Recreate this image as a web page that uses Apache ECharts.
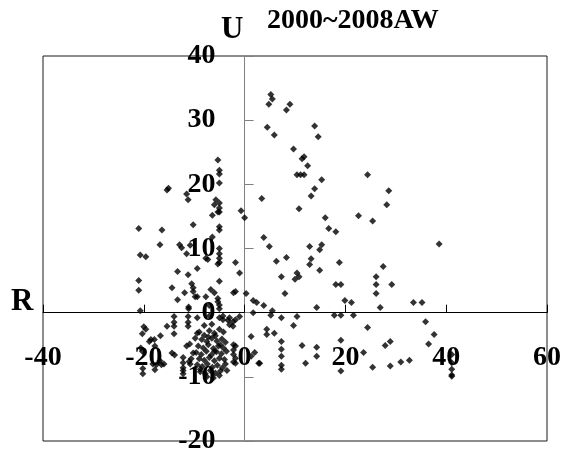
<!DOCTYPE html>
<html>
<head>
<meta charset="utf-8">
<script src="https://cdn.jsdelivr.net/npm/echarts@6/dist/echarts.min.js"></script>
<style>html,body{margin:0;padding:0;background:#fff}#c{width:561px;height:455px}</style>
</head>
<body>
<div id="c"></div>
<script>
// Chart text
const titleText = "2000~2008AW";
const xName = "R";
const yName = "U";
// Axis ranges / ticks
const xTicks = [-40, -20, 0, 20, 40, 60];
const yTicks = [-20, -10, 0, 10, 20, 30, 40];

// Scatter points [R, U]
const upperRight = [
  [5.2,34.0],[5.5,33.3],[4.8,32.5],[9.0,32.5],[8.3,31.6],[4.5,28.9],[5.9,27.7],[13.9,29.1],[14.6,27.4],
  [9.7,25.5],[11.4,24.0],[11.8,24.3],[12.5,22.9],[10.4,21.5],[11.1,21.5],[11.8,21.5],[15.3,20.7],
  [13.9,19.3],[13.2,18.2],[3.4,17.8],[-0.7,15.9],[0,14.8],[10.8,16.2],[16.0,14.8],[16.7,13.1],[18.1,12.6],
  [3.8,11.7],[4.9,10.3],[12.9,10.3],[15.3,10.6],[14.9,9.8],[6.3,8.0],[8.3,8.6],[13.2,8.4],[12.9,7.5],
  [18.8,7.8],[14.9,6.6],[7.3,5.6],[10.4,6.2],[10.8,5.6],[10.0,5.2],[8.0,3.0],[18.1,4.4],[19.1,4.4],
  [0.3,3.0],[19.9,1.9],[1.7,1.9],[2.4,1.6],[3.8,1.1],[14.3,0.8],[24.4,21.5],[28.6,19.0],[28.2,16.8],
  [22.6,15.1],[25.4,14.3],[27.5,7.2],[26.1,5.6],[26.1,4.4],[26.1,3.0],[29.2,4.4],[26.9,0.8],[33.5,1.6],
  [35.2,1.6],[21.2,1.6],[38.6,10.7],[-1.0,6.2]
];
const lowerRight = [
  [1.7,0],[5.5,0.3],[5.2,-0.4],[7.3,-0.8],[10.4,-0.6],[17.8,-0.4],[19.1,-0.4],[21.6,-0.4],
  [4.4,-2.6],[4.4,-3.4],[5.9,-3.2],[9.7,-2.0],[24.4,-2.3],[35.9,-1.4],[37.6,-3.4],[36.5,-4.9],
  [7.3,-4.5],[7.3,-5.7],[7.3,-6.8],[7.3,-8.2],[7.3,-8.8],[11.4,-5.1],[14.3,-5.4],[14.3,-6.8],[12.1,-7.9],
  [19.1,-4.3],[19.1,-9.1],[23.6,-6.2],[25.4,-8.5],[27.9,-5.1],[28.9,-4.5],[28.9,-8.3],[31.0,-7.7],[32.7,-7.4],
  [41.1,-6.5],[41.1,-7.8],[41.1,-8.8],[41.1,-9.7],[41.1,-9.9],[3.0,-7.9],[1.3,-3.7],[2.0,-6.2],[1.3,-6.8],
  [2.8,-7.9],[-1.0,-0.6]
];
const upperLeft = [
  [-5.3,23.8],[-5.0,22.2],[-5.0,21.6],[-5.0,20.2],[-15.1,19.4],[-15.4,19.1],[-11.5,18.5],[-11.2,17.6],
  [-5.7,17.6],[-5.0,17.1],[-6.0,16.8],[-5.0,16.3],[-5.3,15.7],[-5.0,15.7],[-6.4,15.2],[-21.0,13.1],
  [-16.4,12.9],[-10.2,13.7],[-5.0,13.4],[-5.0,12.9],[-6.4,11.8],[-16.8,10.6],[-20.7,9.0],[-19.6,8.7],
  [-12.9,10.6],[-12.5,10.1],[-11.5,9.2],[-10.8,10.5],[-5.0,10.0],[-5.0,9.2],[-5.0,8.5],[-7.7,8.5],[-7.3,8.3],
  [-5.3,7.6],[-5.0,7.8],[-1.8,7.8],[-9.4,6.9],[-13.3,6.4],[-11.2,5.9],[-21.0,5.0],[-21.0,3.5],[-5.0,4.9],
  [-14.4,3.9],[-10.5,4.5],[-10.2,3.9],[-11.9,3.1],[-10.2,3.3],[-9.8,2.5],[-9.4,2.5],[-13.3,2.0],[-11.1,0.9],
  [-11.1,0.6],[-7.7,2.5],[-6.7,3.6],[-6.0,3.1],[-5.3,2.2],[-5.3,1.7],[-1.8,3.3],[-2.2,3.1],[-5.0,1.2],
  [-5.0,0.6],[-20.7,0.3],[-7.0,1.1]
];
const lowerLeft = [
  [-14.0,-0.6],[-11.2,-0.6],[-14.0,-1.5],[-14.0,-2.1],[-11.2,-1.5],[-11.2,-2.1],[-15.4,-2.1],[-20.0,-2.2],
  [-19.6,-2.6],[-20.3,-3.3],[-16.7,-3.6],[-18.6,-4.2],[-17.9,-4.2],[-18.9,-4.5],[-14.0,-3.3],[-9.4,-3.2],
  [-20.6,-5.5],[-20.3,-6.0],[-17.8,-5.2],[-14.4,-6.3],[-13.9,-6.6],[-16.8,-7.5],[-16.0,-8.0],[-18.2,-8.0],
  [-17.8,-8.9],[-20.2,-8.7],[-20.2,-9.5],[-12.2,-7.0],[-12.2,-7.8],[-12.2,-8.6],[-12.2,-9.0],[-12.2,-9.5],
  [-11.5,-5.2],[-10.9,-4.9],[-10.2,-6.3],[-10.6,-7.2],[-11.0,-7.6],[-10.8,-8.0],[-17.5,-8.1],[-16.5,-8.1],
  [-2.3,-1.4],[-1.8,-1.1],[-3.0,-0.8],[-4.3,-1.1],[-3.3,-1.2],[-3.0,-1.9],[-2.3,-2.1],[-1.8,-5.2],[-2.2,-5.0],
  [-2.2,-5.8],[-2.2,-6.5],[-1.8,-7.1],[-2.2,-7.7],[-1.8,-7.9],[-4.3,-0.5],[-5.0,-0.8],[-9.4,-0.8],[-7.0,-0.5]
];
const denseCluster = [
  [-9.0,-3.0],[-8.0,-3.5],[-7.0,-2.8],[-6.0,-3.2],[-5.0,-2.6],[-4.2,-3.0],[-8.5,-4.2],[-7.5,-4.5],[-6.5,-4.0],
  [-5.5,-4.4],[-4.5,-4.1],[-3.8,-4.6],[-9.2,-5.2],[-8.2,-5.5],[-7.2,-5.0],[-6.2,-5.6],[-5.2,-5.2],[-4.2,-5.5],
  [-9.6,-6.2],[-8.6,-6.5],[-7.6,-6.0],[-6.6,-6.6],[-5.6,-6.1],[-4.6,-6.4],[-3.6,-6.0],[-9.0,-7.2],[-8.0,-7.4],
  [-7.0,-7.0],[-6.0,-7.5],[-5.0,-7.1],[-4.0,-7.3],[-9.4,-8.1],[-8.4,-8.4],[-7.4,-8.0],[-6.4,-8.5],[-5.4,-8.2],
  [-4.4,-8.6],[-8.8,-9.2],[-7.8,-9.5],[-6.8,-9.0],[-5.8,-9.4],[-4.8,-9.1],[-7.5,-10.0],[-6.2,-10.2],[-5.0,-9.8],
  [-8.0,-2.0],[-6.5,-1.8],[-7.2,-3.8],[-5.8,-3.6],[-4.8,-5.0],[-3.8,-8.0],[-3.5,-9.0],[-9.8,-4.0],[-8.8,-8.8],
  [-6.0,-6.0]
];

const points = [].concat(upperRight, lowerRight, upperLeft, lowerLeft, denseCluster);

const W = 561, H = 455;
const G = {left: 43, right: 14, top: 56, bottom: 14};
const xMin = xTicks[0], xMax = xTicks[xTicks.length - 1];
const yMin = yTicks[0], yMax = yTicks[yTicks.length - 1];
const gw = W - G.left - G.right, gh = H - G.top - G.bottom;
// distance from grid edge to the zero lines (labels follow the crossing axes)
const xZeroOffset = gh * (0 - yMin) / (yMax - yMin);
const yZeroOffset = gw * (0 - xMin) / (xMax - xMin);

const FONT = "'Liberation Serif', 'Times New Roman', serif";
const labelStyle = {color: '#000', fontFamily: FONT, fontWeight: 'bold', fontSize: 28};
const chart = echarts.init(document.getElementById('c'), null, {renderer: 'canvas'});
chart.setOption({
  animation: false,
  backgroundColor: '#ffffff',
  grid: {left: G.left, right: G.right, top: G.top, bottom: G.bottom, outerBoundsMode: 'none', containLabel: false,
         show: true, borderColor: '#1a1a1a', borderWidth: 1},
  xAxis: [{
    type: 'value', min: xMin, max: xMax, interval: 20,
    axisLine: {onZero: true, lineStyle: {color: '#000', width: 1}},
    axisTick: {show: true, inside: true, length: 8, lineStyle: {color: '#000'}},
    axisLabel: {show: false},
    splitLine: {show: false}
  }, {
    type: 'value', min: xMin, max: xMax, interval: 20, position: 'bottom', offset: -xZeroOffset,
    axisLine: {show: false, onZero: false}, axisTick: {show: false},
    axisLabel: Object.assign({margin: 31}, labelStyle),
    splitLine: {show: false}
  }],
  yAxis: [{
    type: 'value', min: yMin, max: yMax, interval: 10,
    axisLine: {onZero: true, lineStyle: {color: '#808080', width: 1}},
    axisTick: {show: true, inside: true, length: 9, lineStyle: {color: '#808080'}},
    axisLabel: {show: false},
    splitLine: {show: false}
  }, {
    type: 'value', min: yMin, max: yMax, interval: 10, position: 'left', offset: -yZeroOffset,
    axisLine: {show: false, onZero: false}, axisTick: {show: false},
    axisLabel: Object.assign({margin: 29}, labelStyle),
    splitLine: {show: false}
  }],
  graphic: [
    {type: 'text', left: 267, top: 7, style: {text: titleText, font: "bold 28px " + FONT, fill: '#000'}},
    {type: 'text', left: 221, top: 14, style: {text: yName, font: "bold 31px " + FONT, fill: '#000'}},
    {type: 'text', left: 11, top: 286, style: {text: xName, font: "bold 31px " + FONT, fill: '#000'}}
  ],
  series: [{
    type: 'scatter',
    symbol: 'diamond',
    symbolSize: 7,
    itemStyle: {color: '#000'},
    data: points
  }]
});
</script>
</body>
</html>
